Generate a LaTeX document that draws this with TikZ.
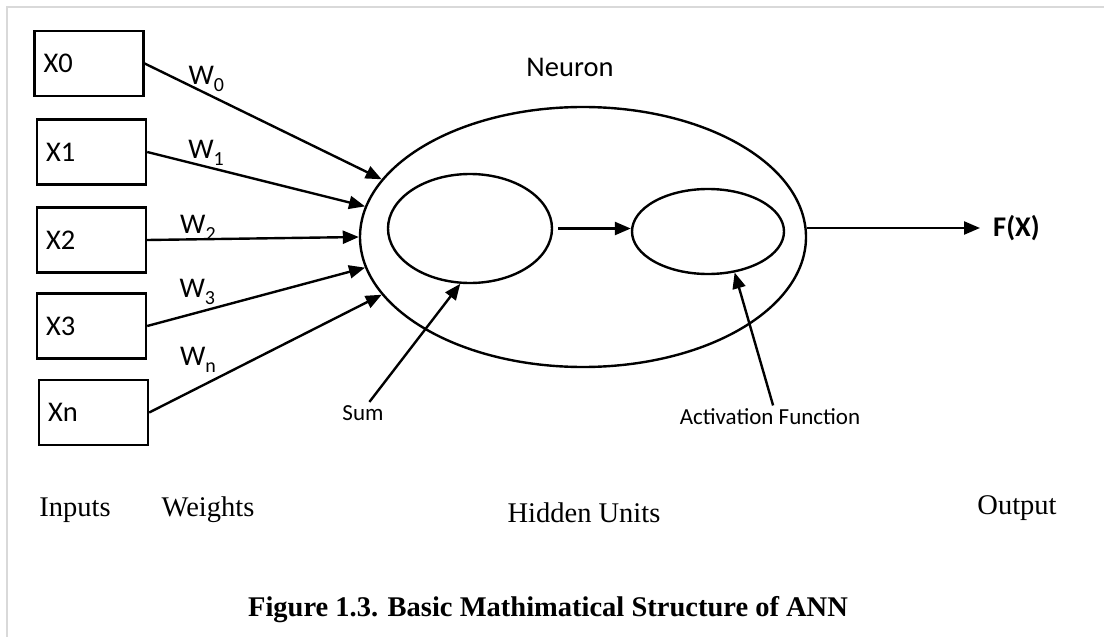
\documentclass[tikz,border=0pt]{standalone}
\usepackage{fontspec}
\setmainfont{Liberation Serif}
\setsansfont{Carlito}
\usetikzlibrary{shapes.geometric, positioning, arrows.meta}
\usepackage{xcolor}
\definecolor{FrameGray}{HTML}{D9D9D9}
\newcommand{\mainsize}{\fontsize{28.5}{34}\selectfont}
\newcommand{\notesize}{\fontsize{23}{27}\selectfont}
\newcommand{\wsub}[1]{W\raisebox{-7pt}{\fontsize{20}{20}\selectfont #1}}
\tikzset{
  inbox/.style={draw, line width=2.4pt, minimum width=109pt, minimum height=65pt, inner xsep=9pt, text width=91pt, align=left},
  cell/.style={draw, ellipse, line width=2.4pt, inner sep=0pt},
  wire/.style={-{Triangle[length=16pt, width=13pt]}, line width=2.4pt},
  wlabel/.style={inner sep=1pt}
}

\begin{document}
\begin{tikzpicture}[x=1pt, y=-1pt, font=\sffamily\mainsize]
                \useasboundingbox (0,0) rectangle (1104,637);
                \draw[FrameGray, line width=2pt] (7,637) -- (7,7) -- (1104,7);

                \node[inbox] (x0) at (89,63.5) {X0};
                \node[inbox] (x1) at (91.5,152) {X1};
                \node[inbox] (x2) at (91.5,240) {X2};
                \node[inbox] (x3) at (91.5,326) {X3};
                \node[inbox] (xn) at (93.5,412.5) {Xn};

                % Neuron
                \node[cell, minimum width=446pt, minimum height=260pt] (neuron) at (583,237) {};
                \node (neuronlbl) at (570,67) {Neuron};
                \node[cell, minimum width=164pt, minimum height=109pt] (sum) at (470,228.5) {};
                \node[cell, minimum width=152pt, minimum height=85pt] (act) at (708,231.5) {};

                \draw[wire] (x0.east) -- node[wlabel, pos=0.26, above=0pt] {\wsub{0}} (neuron.164);
                \draw[wire] (x1.east) -- node[wlabel, pos=0.27, above=-1pt] {\wsub{1}} (neuron.172.5);
                \draw[wire] (x2.east) -- node[wlabel, pos=0.24, above=-3pt] {\wsub{2}} (neuron.180);
                \draw[wire] (x3.east) -- node[wlabel, pos=0.23, above=6pt] {\wsub{3}} (neuron.188.6);
                \draw[wire] (xn.east) -- node[wlabel, pos=0.21, above=13pt] {\wsub{n}} (neuron.196);

                \draw[wire, shorten <=5pt] (sum.east) -- (sum.east -| act.west);

                % Output
                \node[font=\sffamily\bfseries\mainsize, anchor=west, inner sep=2pt] (fx) at (991,228) {F(X)};
                \draw[wire, shorten >=11pt] (neuron.east |- fx.west) -- (fx.west);

                \node[font=\sffamily\notesize] (sumlbl) at (363,413) {Sum};
                \draw[wire] (sumlbl.60) -- (sum.260);
                \node[font=\sffamily\notesize] (actlbl) at (770,417) {Activation Function};
                \draw[wire] (actlbl.75) -- (act.303.7);

                \node[font=\rmfamily\mainsize] (inputs) at (75,510) {Inputs};
                \node[font=\rmfamily\mainsize] (weights) at (208,510) {Weights};
                \node[font=\rmfamily\mainsize] (hidden) at (584,513) {Hidden Units};
                \node[font=\rmfamily\mainsize] (output) at (1017,508) {Output};
                \node[font=\rmfamily\bfseries\mainsize] (caption) at (548,610) {Figure 1.3. Basic Mathimatical Structure of ANN};
            \end{tikzpicture}
\end{document}
